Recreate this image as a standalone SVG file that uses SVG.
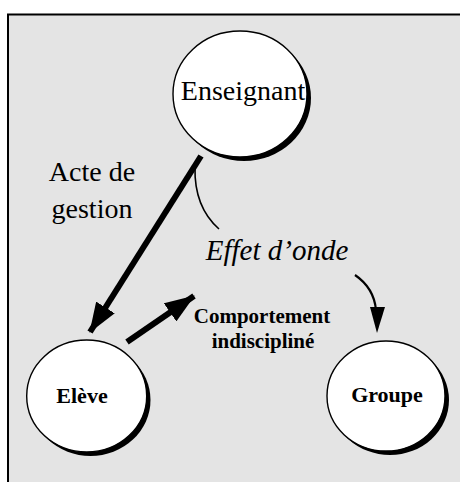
<svg xmlns="http://www.w3.org/2000/svg" width="460" height="482" viewBox="0 0 460 482">
  <style>
    .panel { fill: #e4e4e4; stroke: #000; stroke-width: 2; }
    .disc { fill: #fff; stroke: #000; stroke-width: 1.4; }
    .shade { fill: #000; }
    .label { font-family: "Liberation Serif", "Times New Roman", serif; fill: #000; text-anchor: middle; }
    .big { font-size: 28px; }
    .bold { font-size: 22px; font-weight: bold; }
    .mid { font-size: 21px; font-weight: bold; }
    .ital { font-size: 29px; font-style: italic; }
    .thick { fill: none; stroke: #000; stroke-width: 6; }
    .thin { fill: none; stroke: #000; stroke-width: 1.6; }
    .curve { fill: none; stroke: #000; stroke-width: 2.2; }
  </style>
  <defs>
    <marker id="head" markerUnits="userSpaceOnUse" markerWidth="30" markerHeight="22" refX="29" refY="11" orient="auto">
      <path d="M0,0 L30,11 L0,22 z" fill="#000"/>
    </marker>
  </defs>

  <!-- background panel -->
  <rect class="panel" x="8" y="14.5" width="470" height="490"/>

  <!-- connectors -->
  <g id="connectors">
    <line class="thick" x1="201" y1="156" x2="90" y2="332" marker-end="url(#head)"/>
    <line class="thick" x1="127" y1="342" x2="194" y2="296" marker-end="url(#head)"/>
    <path class="thin" d="M195,167 Q194,207 219,229"/>
    <path class="curve" d="M355,275 Q374,288 376,310"/>
    <path d="M370,307 L385,307 L377,333 z" fill="#000"/>
  </g>

  <!-- Enseignant -->
  <g id="node-enseignant">
    <ellipse class="shade" cx="244" cy="98" rx="67" ry="63"/>
    <ellipse class="disc" cx="240" cy="94" rx="67" ry="63"/>
    <text class="label big" x="243" y="100">Enseignant</text>
  </g>

  <!-- Elève -->
  <g id="node-eleve">
    <ellipse class="shade" cx="90.5" cy="400" rx="60" ry="56"/>
    <ellipse class="disc" cx="86.7" cy="396" rx="60" ry="56"/>
    <text class="label bold" x="82" y="403">Elève</text>
  </g>

  <!-- Groupe -->
  <g id="node-groupe">
    <ellipse class="shade" cx="390" cy="400" rx="59" ry="55"/>
    <ellipse class="disc" cx="386" cy="396" rx="59" ry="55"/>
    <text class="label bold" x="387" y="402">Groupe</text>
  </g>

  <!-- edge labels -->
  <g id="edge-labels">
    <text class="label big" x="92" y="181">Acte de</text>
    <text class="label big" x="92" y="218">gestion</text>
    <text class="label ital" x="277" y="260">Effet d’onde</text>
    <text class="label mid" x="262" y="323">Comportement</text>
    <text class="label mid" x="263" y="348">indiscipliné</text>
  </g>
</svg>
